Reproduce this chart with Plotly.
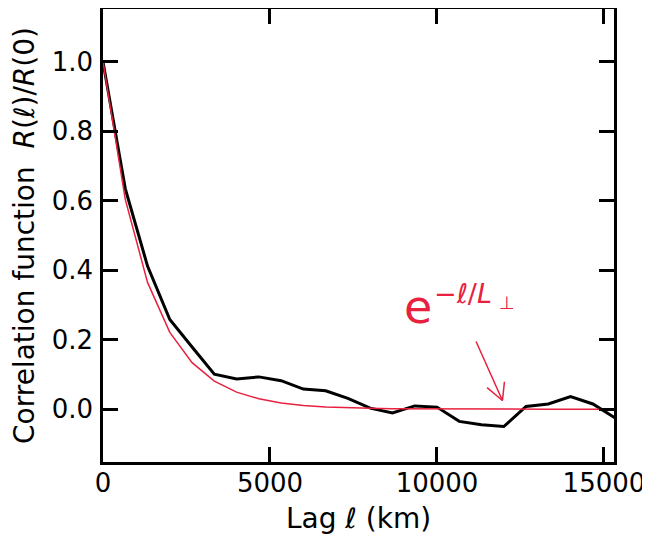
import plotly.graph_objects as go

# ---- data ----
lag_km = [0, 667, 1333, 2000, 2667, 3333, 4000, 4667, 5333, 6000, 6667, 7333,
          8000, 8667, 9333, 10000, 10667, 11333, 12000, 12667, 13333, 14000,
          14667, 15333]
corr_measured = [1.0, 0.635, 0.412, 0.258, 0.179, 0.101, 0.087, 0.093, 0.082,
                 0.058, 0.053, 0.031, 0.003, -0.011, 0.0095, 0.006, -0.035,
                 -0.045, -0.050, 0.008, 0.015, 0.036, 0.015, -0.025]
corr_exp_fit = [1.0, 0.604, 0.365, 0.221, 0.134, 0.081, 0.049, 0.030, 0.018,
                0.011, 0.0065, 0.004, 0.0024, 0.0014, 0.0009, 0.0005, 0.0003,
                0.0002, 0.0001, 0.0001, 0.0, 0.0, 0.0, 0.0]
x_ticks = [0, 5000, 10000, 15000]
y_ticks = [0.0, 0.2, 0.4, 0.6, 0.8, 1.0]

RED = "#e8213f"
FONT = "DejaVu Sans"
TICK_FS = 26
TITLE_FS = 28

fig = go.Figure()
fig.add_trace(go.Scatter(x=lag_km, y=corr_measured, mode="lines",
                         line=dict(color="black", width=3), showlegend=False))
fig.add_trace(go.Scatter(x=lag_km, y=corr_exp_fit, mode="lines",
                         line=dict(color=RED, width=1.5), showlegend=False))

axis_common = dict(showline=True, linecolor="black", linewidth=2.5,
                   mirror="ticks", ticks="inside", ticklen=15, tickwidth=2.5,
                   tickcolor="black", showgrid=False, zeroline=False,
                   automargin=False,
                   tickfont=dict(family=FONT, size=TICK_FS, color="black"))

fig.update_xaxes(range=[0, 15300], tickvals=x_ticks, tickformat="d",
                 title=dict(text="Lag ℓ (km)", font=dict(family=FONT, size=TITLE_FS, color="black"),
                            standoff=19),
                 ticklabelstandoff=-4, **axis_common)
fig.update_yaxes(range=[-0.152, 1.152], tickvals=y_ticks, tickformat=".1f",
                 title=dict(text="Correlation function  <i>R</i>(ℓ)/<i>R</i>(0)",
                            font=dict(family=FONT, size=TITLE_FS, color="black"),
                            standoff=15),
                 ticklabelstandoff=2, **axis_common)

# annotation text e^{-l/L_perp}
fig.add_annotation(x=9431, y=0.294, xref="x", yref="y", text="e",
                   showarrow=False, font=dict(family=FONT, size=46, color=RED),
                   xanchor="center", yanchor="middle")
fig.add_annotation(x=9850, y=0.334, xref="x", yref="y", text="−<i>ℓ</i>/<i>L</i>",
                   showarrow=False, font=dict(family=FONT, size=27, color=RED),
                   xanchor="left", yanchor="middle")
fig.add_annotation(x=11800, y=0.308, xref="x", yref="y", text="⊥",
                   showarrow=False, font=dict(family=FONT, size=18, color=RED),
                   xanchor="left", yanchor="middle")

# arrow
fig.add_shape(type="line", xref="x", yref="y", x0=11170, y0=0.195, x1=11960, y1=0.025,
              line=dict(color=RED, width=1.5))
fig.add_shape(type="line", xref="x", yref="y", x0=11500, y0=0.062, x1=11960, y1=0.025,
              line=dict(color=RED, width=1.5))
fig.add_shape(type="line", xref="x", yref="y", x0=12020, y0=0.079, x1=11960, y1=0.025,
              line=dict(color=RED, width=1.5))

# the page body has an 8px default margin, so the figure is sized to fill the rest
fig.update_layout(width=642, height=527,
                  margin=dict(l=95, r=36, t=1, b=73),
                  plot_bgcolor="white", paper_bgcolor="white",
                  font=dict(family=FONT, color="black"))

fig.write_html("out.html")
